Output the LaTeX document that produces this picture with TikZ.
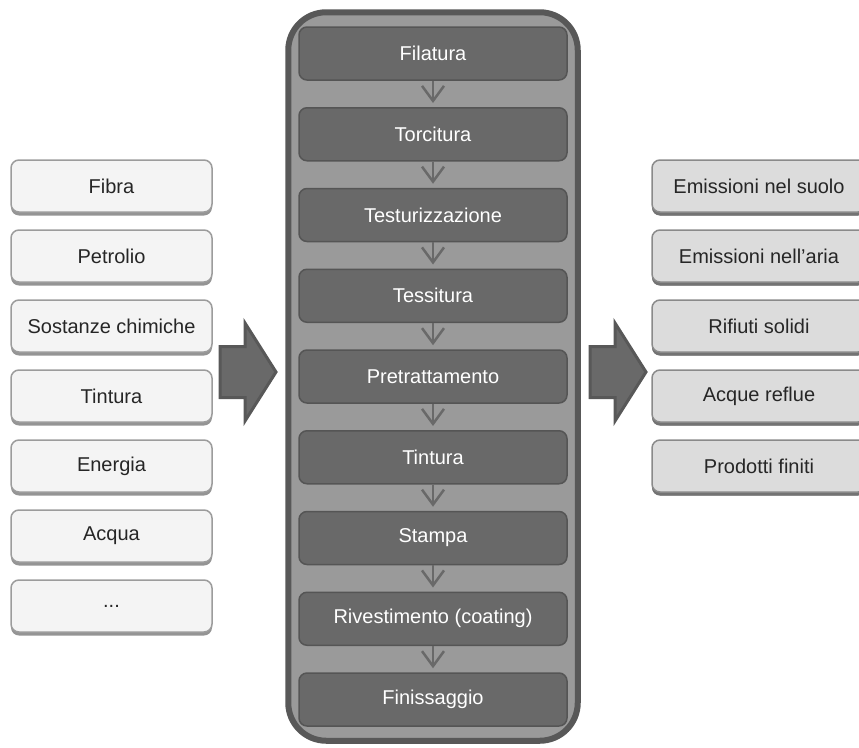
\documentclass[tikz,border=0pt]{standalone}
\usepackage{fontspec}
\setmainfont{Liberation Sans}
\usepackage{xcolor}
\usetikzlibrary{positioning, fit, shadows, arrows.meta, backgrounds}

\definecolor{inFill}{HTML}{F4F4F4}
\definecolor{inEdge}{HTML}{9C9C9C}
\definecolor{outFill}{HTML}{DCDCDC}
\definecolor{outEdge}{HTML}{8A8A8A}
\definecolor{lineFill}{HTML}{9A9A9A}
\definecolor{lineEdge}{HTML}{585858}
\definecolor{stepFill}{HTML}{696969}
\definecolor{stepEdge}{HTML}{555555}

\begin{document}
\begin{tikzpicture}[
    x=1pt, y=-1pt,
    node distance=16.5pt,
    inbox/.style={rectangle, draw=inEdge, fill=inFill, line width=1.5pt, rounded corners=8pt, minimum width=201pt, minimum height=52pt, align=center, font=\fontsize{20}{24}\selectfont, text=black!85,
        drop shadow={shadow xshift=0pt, shadow yshift=-3.5pt, fill=black!42, opacity=1}},
    outbox/.style={inbox, draw=outEdge, fill=outFill, minimum width=214pt,
        drop shadow={shadow xshift=0pt, shadow yshift=-3.5pt, fill=black!55, opacity=1}},
    stepbox/.style={rectangle, draw=stepEdge, fill=stepFill, line width=1.5pt, rounded corners=8pt, minimum width=268pt, minimum height=53pt, align=center, font=\fontsize{20}{24}\selectfont, text=white},
    container/.style={rectangle, draw=lineEdge, fill=lineFill, line width=6pt, rounded corners=38pt},
    steparrow/.style={-{Straight Barb[length=15pt, width=22pt]}, draw=stepFill, line width=2.5pt, shorten >=4pt},
    blockarrow/.style={draw=lineEdge, fill=stepFill, line width=3pt, line join=miter},
    bigarrow/.pic={\draw[blockarrow] (0,-25.5) -- (25,-25.5) -- (25,-49) -- (56,0) -- (25,49) -- (25,25.5) -- (0,25.5) -- cycle;}
]
    \clip (0,0) rectangle (859,747);

    % inputs
    \node[inbox] (fibra) at (111.5,186) {Fibra};
    \node[inbox, below=of fibra] (petrolio) {Petrolio};
    \node[inbox, below=of petrolio] (chimiche) {Sostanze chimiche};
    \node[inbox, below=of chimiche] (colorante) {Tintura};
    \node[inbox, below=of colorante] (energia) {Energia};
    \node[inbox, below=of energia] (acqua) {Acqua};
    \node[inbox, below=of acqua] (altro) {...};

    % process steps
    \begin{scope}[node distance=26.25pt]
    \node[stepbox] (filatura) at (433,53.5) {Filatura};
    \node[stepbox, below=of filatura] (torcitura) {Torcitura};
    \node[stepbox, below=of torcitura] (testurizzazione) {Testurizzazione};
    \node[stepbox, below=of testurizzazione] (tessitura) {Tessitura};
    \node[stepbox, below=of tessitura] (pretrattamento) {Pretrattamento};
    \node[stepbox, below=of pretrattamento] (tintura) {Tintura};
    \node[stepbox, below=of tintura] (stampa) {Stampa};
    \node[stepbox, below=of stampa] (rivestimento) {Rivestimento (coating)};
    \node[stepbox, below=of rivestimento] (finissaggio) {Finissaggio};
    \end{scope}

    \begin{scope}[on background layer]
    \node[container, fit=(filatura)(finissaggio), inner xsep=10pt, inner ysep=14pt] (linea) {};
    \end{scope}

    \foreach \a/\b in {filatura/torcitura, torcitura/testurizzazione, testurizzazione/tessitura, tessitura/pretrattamento, pretrattamento/tintura, tintura/stampa, stampa/rivestimento, rivestimento/finissaggio}
        \draw[steparrow] (\a) -- (\b);

    % outputs
    \node[outbox] (suolo) at (759,186) {Emissioni nel suolo};
    \node[outbox, below=of suolo] (aria) {Emissioni nell'aria};
    \node[outbox, below=of aria] (rifiuti) {Rifiuti solidi};
    \node[outbox, below=of rifiuti] (acque) {Acque reflue};
    \node[outbox, below=of acque] (prodotti) {Prodotti finiti};

    \pic at (220,372) {bigarrow};
    \pic at (590,372) {bigarrow};
\end{tikzpicture}
\end{document}
